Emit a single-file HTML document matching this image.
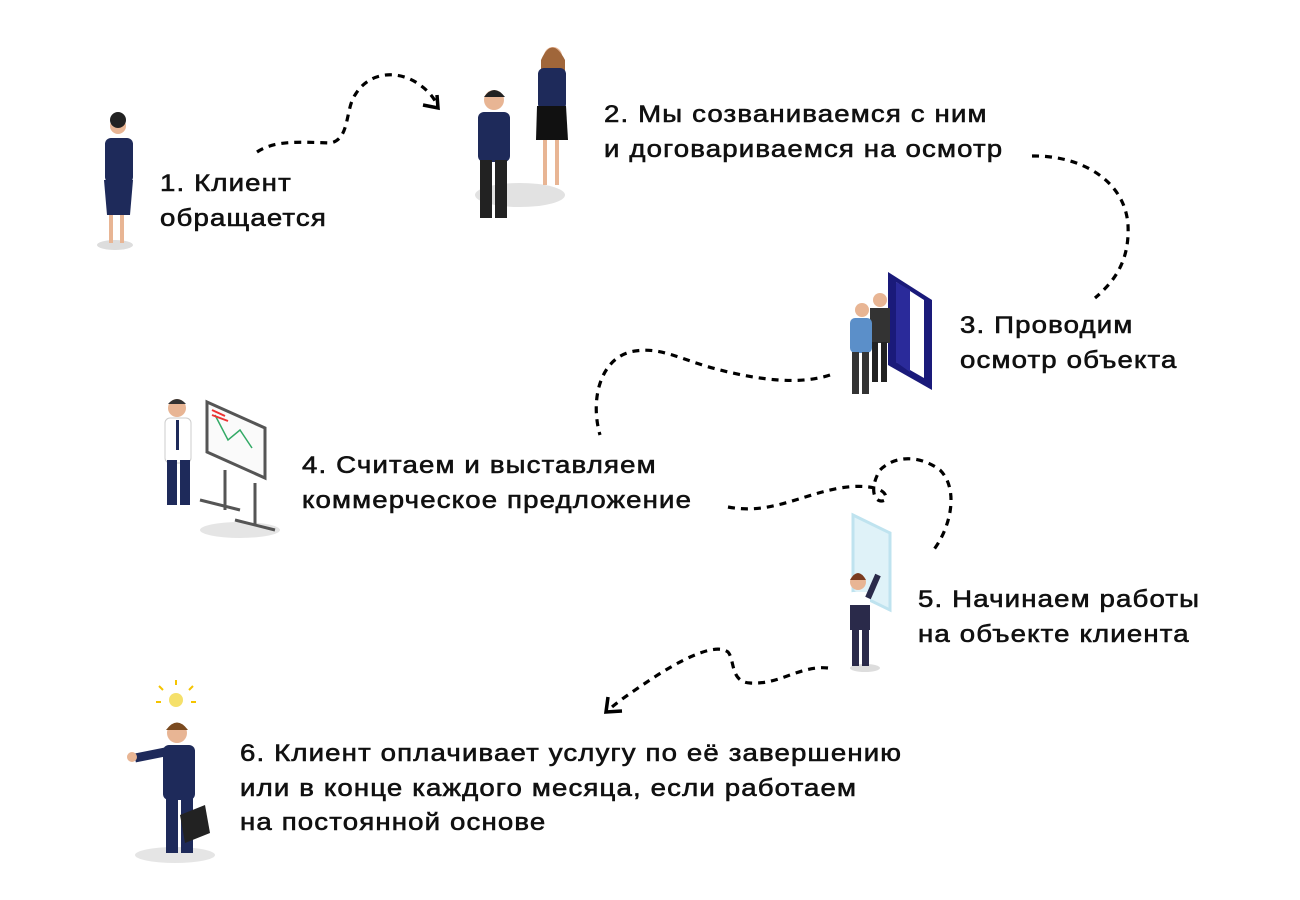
<!DOCTYPE html>
<html><head><meta charset="utf-8"><style>
body{margin:0;width:1300px;height:900px;background:#fff;position:relative;overflow:hidden;font-family:"Liberation Sans",sans-serif;}
.t{position:absolute;font-size:24px;line-height:34.5px;letter-spacing:1px;color:#111;-webkit-text-stroke:0.6px #111;white-space:nowrap;transform:scaleX(1.15);transform-origin:0 0;}
svg{position:absolute;left:0;top:0;}
</style></head><body>
<svg width="1300" height="900" viewBox="0 0 1300 900">
<g fill="none" stroke="#000" stroke-width="3.2" stroke-dasharray="7 6">
<path d="M257 152 C275 140 300 142 330 143 C350 140 345 110 355 95 C370 70 400 70 420 85 C430 92 435 100 438 106"/>
<path d="M1032 156 C1080 155 1125 180 1128 225 C1130 265 1110 285 1095 298"/>
<path d="M830 375 C800 385 760 380 720 370 C680 360 660 345 630 352 C600 360 590 400 600 435"/>
<path d="M728 507 C770 515 800 495 840 488 C870 483 890 490 885 500 C875 505 868 490 880 470 C895 455 920 455 940 470 C960 490 950 530 932 552"/>
<path d="M828 668 C800 665 780 685 750 683 C730 682 735 660 728 652 C715 642 680 660 650 680 C635 690 620 700 612 707"/>
</g>
<g fill="none" stroke="#000" stroke-width="3.5">
<path d="M437 95 L438 108 L423 105"/>
<path d="M608 697 L606 712 L622 711"/>
</g>
<ellipse cx="115" cy="245" rx="18" ry="5" fill="#ddd"/>
<circle cx="118" cy="126" r="8" fill="#e8b594"/><circle cx="118" cy="120" r="8" fill="#222"/>
<rect x="105" y="138" width="28" height="45" rx="6" fill="#1e2a5a"/>
<path d="M104 180 L133 180 L130 215 L107 215Z" fill="#1e2a5a"/>
<rect x="109" y="215" width="4" height="28" fill="#e8b594"/><rect x="120" y="215" width="4" height="28" fill="#e8b594"/>
<ellipse cx="520" cy="195" rx="45" ry="12" fill="#e2e2e2"/>
<circle cx="494" cy="100" r="10" fill="#e8b594"/><path d="M484 97 Q494 83 505 97Z" fill="#222"/>
<rect x="478" y="112" width="32" height="50" rx="6" fill="#1e2a5a"/>
<rect x="480" y="160" width="12" height="58" fill="#222"/><rect x="495" y="160" width="12" height="58" fill="#222"/>
<circle cx="553" cy="56" r="9" fill="#e8b594"/><path d="M541 60 Q552 35 565 60 L565 80 L541 80Z" fill="#a0663a"/>
<rect x="538" y="68" width="28" height="42" rx="6" fill="#1e2a5a"/>
<path d="M537 106 L566 106 L568 140 L536 140Z" fill="#111"/>
<rect x="543" y="140" width="4" height="45" fill="#e8b594"/><rect x="555" y="140" width="4" height="45" fill="#e8b594"/>
<path d="M888 272 L932 300 L932 390 L888 365Z" fill="#1a1a7a"/>
<path d="M896 282 L924 300 L924 378 L896 362Z" fill="#fff"/>
<path d="M896 282 L910 290 L910 372 L896 362Z" fill="#2a2a9a"/>
<circle cx="880" cy="300" r="7" fill="#e8b594"/><rect x="870" y="308" width="20" height="35" fill="#333"/>
<rect x="872" y="342" width="6" height="40" fill="#222"/><rect x="881" y="342" width="6" height="40" fill="#222"/>
<circle cx="862" cy="310" r="7" fill="#e8b594"/><rect x="850" y="318" width="22" height="35" rx="5" fill="#5b8fc9"/>
<rect x="852" y="352" width="7" height="42" fill="#333"/><rect x="862" y="352" width="7" height="42" fill="#333"/>
<ellipse cx="240" cy="530" rx="40" ry="8" fill="#e5e5e5"/>
<circle cx="177" cy="408" r="9" fill="#e8b594"/><path d="M168 404 Q177 394 186 404Z" fill="#333"/>
<rect x="165" y="418" width="26" height="45" rx="5" fill="#fff" stroke="#ccc"/>
<rect x="176" y="420" width="3" height="30" fill="#1e2a5a"/>
<rect x="167" y="460" width="10" height="45" fill="#1e2a5a"/><rect x="180" y="460" width="10" height="45" fill="#1e2a5a"/>
<path d="M207 402 L265 428 L265 478 L207 452Z" fill="#fafafa" stroke="#555" stroke-width="3"/>
<path d="M215 415 L228 440 L240 430 L252 448" stroke="#3a6" fill="none" stroke-width="1.5"/>
<path d="M212 410 L225 416 M212 415 L228 421" stroke="#e33" stroke-width="2"/>
<path d="M225 470 L225 510 M255 483 L255 525 M200 500 L240 510 M235 520 L275 530" stroke="#555" stroke-width="3"/>
<ellipse cx="865" cy="668" rx="15" ry="4" fill="#ddd"/>
<path d="M853 515 L890 533 L890 610 L853 592Z" fill="#dff2f8" stroke="#bfe3ef" stroke-width="3"/>
<circle cx="858" cy="582" r="8" fill="#e8b594"/><path d="M850 580 Q858 566 866 580Z" fill="#7a3b1f"/>
<rect x="848" y="592" width="22" height="30" rx="5" fill="#fff"/>
<rect x="850" y="605" width="20" height="25" fill="#2a2a4a"/>
<rect x="852" y="628" width="7" height="38" fill="#2a2a4a"/><rect x="862" y="628" width="7" height="38" fill="#2a2a4a"/>
<path d="M868 598 L878 575" stroke="#2a2a4a" stroke-width="6"/>
<ellipse cx="175" cy="855" rx="40" ry="8" fill="#e5e5e5"/>
<circle cx="176" cy="700" r="7" fill="#f5e06a"/>
<path d="M163 690 l-4-4 M176 685 v-5 M189 690 l4-4 M161 702 h-5 M191 702 h5" stroke="#f5c400" stroke-width="2"/>
<circle cx="177" cy="733" r="10" fill="#e8b594"/><path d="M166 730 Q177 715 188 730Z" fill="#7a4a1f"/>
<rect x="163" y="745" width="32" height="55" rx="6" fill="#1e2a5a"/>
<path d="M165 752 L135 758" stroke="#1e2a5a" stroke-width="9"/>
<circle cx="132" cy="757" r="5" fill="#e8b594"/>
<rect x="166" y="798" width="12" height="55" fill="#1e2a5a"/><rect x="181" y="798" width="12" height="55" fill="#1e2a5a"/>
<path d="M180 815 L205 805 L210 833 L185 843Z" fill="#222"/>
</svg>
<div class="t" style="left:160px;top:167px">1. Клиент<br>обращается</div>
<div class="t" style="left:604px;top:98px">2. Мы созваниваемся с ним<br>и договариваемся на осмотр</div>
<div class="t" style="left:960px;top:309px">3. Проводим<br>осмотр объекта</div>
<div class="t" style="left:302px;top:449px">4. Считаем и выставляем<br>коммерческое предложение</div>
<div class="t" style="left:918px;top:583px">5. Начинаем работы<br>на объекте клиента</div>
<div class="t" style="left:240px;top:737px">6. Клиент оплачивает услугу по её завершению<br>или в конце каждого месяца, если работаем<br>на постоянной основе</div>
</body></html>
